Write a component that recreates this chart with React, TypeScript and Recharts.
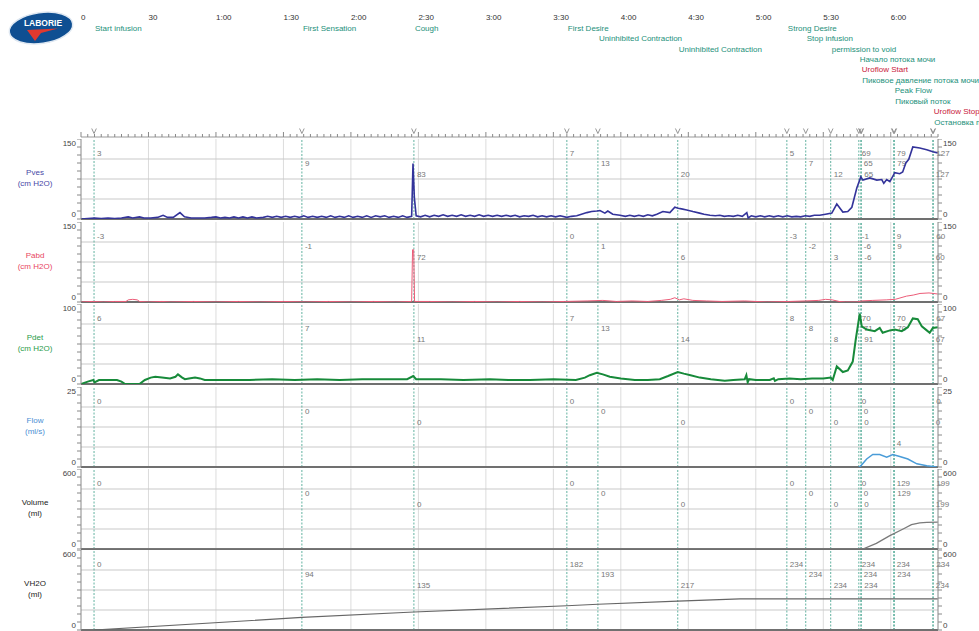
import React from 'react';
import { LineChart, Line, XAxis, YAxis, ReferenceLine } from 'recharts';

const W = 979;
const PLOT_LEFT = 81;
const PLOT_RIGHT = 938;
const AXIS_W = 30;
const T_MAX = 381;
const FONT = '"Liberation Sans", Arial, sans-serif';

// time axis (seconds)
const timeTicks = [0, 30, 60, 90, 120, 150, 180, 210, 240, 270, 300, 330, 360];
const timeLabels = ['0', '30', '1:00', '1:30', '2:00', '2:30', '3:00', '3:30', '4:00', '4:30', '5:00', '5:30', '6:00'];

// events
const eventTimes = [5.8, 98.2, 148, 216, 229.8, 265.3, 313.8, 322.2, 333.3, 345.8, 346.7, 346.9, 361.3, 361.6, 378.7, 378.9];
const eventNames = [
  'Start infusion', 'First Sensation', 'Cough', 'First Desire', 'Uninhibited Contraction',
  'Uninhibited Contraction', 'Strong Desire', 'Stop infusion', 'permission to void',
  'Начало потока мочи', 'Uroflow Start', 'Пиковое давление потока мочи', 'Peak Flow',
  'Пиковый поток', 'Uroflow Stop', 'Остановка потока мочи',
];
const eventLabelRows = [0, 0, 0, 0, 1, 2, 0, 1, 2, 3, 4, 5, 6, 7, 8, 9];

// traces: [seconds, value]
const pves: [number, number][] = [
  [0, 0], [3, 1], [6, 2], [9, 1], [12, 2], [15, 1], [18, 2], [21, 4], [23, 2], [26, 4], [28, 2], [31, 2],
  [34, 3], [36.5, 7], [38.5, 3], [41, 3], [44, 12], [46, 4], [49, 2], [52, 2], [55, 2], [58, 3], [60, 4],
  [62, 2], [64, 3], [66, 2], [68, 4], [70, 2], [72, 4], [74, 2], [76, 4], [78, 2], [81, 3], [83, 5], [85, 3],
  [87, 5], [89, 3], [91, 5], [93, 3], [95, 5], [97, 3], [99, 6], [101, 3], [103, 5], [105, 3], [107, 5],
  [109, 3], [111, 6], [113, 3], [115, 5], [117, 3], [119, 6], [121, 3], [123, 5], [125, 3], [127, 6],
  [129, 3], [131, 6], [133, 4], [135, 6], [137, 3], [139, 5], [141, 3], [143, 6], [145, 3], [147, 5],
  [147.6, 104], [148.2, 40], [149, 6], [151, 4], [153, 7], [155, 4], [157, 7], [159, 5], [161, 8], [163, 5],
  [165, 7], [167, 5], [169, 8], [171, 5], [173, 7], [175, 5], [177, 8], [179, 5], [181, 7], [183, 5],
  [185, 7], [187, 5], [189, 7], [191, 5], [193, 7], [195, 4], [197, 6], [199, 5], [201, 7], [203, 4],
  [205, 6], [207, 4], [209, 6], [211, 4], [213, 6], [216, 3], [218, 5], [220.4, 6], [222.5, 9], [224.9, 12],
  [227, 14], [229.3, 15], [230.7, 16], [232.9, 11], [234.2, 15], [236.4, 9], [239.6, 7], [242, 5], [244, 7],
  [246, 5], [248, 7], [250, 5], [252, 8], [254, 6], [256, 9], [258.7, 14], [261.8, 12], [264, 22],
  [265.5, 20], [267, 19], [269.3, 17], [272, 14], [275, 11], [277, 9], [279.6, 7], [282, 6], [284, 7],
  [286, 5], [288, 6], [290, 5], [292, 7], [294, 5], [296, 12], [296.6, 2], [298, 6], [300, 4], [302, 6],
  [304, 4], [306, 6], [308, 4], [310, 6], [312, 4], [314, 6], [316, 4], [318, 5], [320, 4], [322, 6],
  [324, 5], [326, 7], [328.4, 7], [331, 9], [333.8, 11], [336, 28], [338.7, 13], [340.9, 14], [342.7, 22],
  [344.9, 58], [346.7, 79], [347.6, 73], [350.7, 77], [353.8, 73], [356, 74], [356.9, 67], [358.2, 74],
  [359.6, 70], [361.8, 87], [364, 85], [365.3, 88], [366.7, 105], [368, 112], [369.8, 135], [372.9, 133],
  [376, 130], [378.7, 126], [380.9, 124],
];

const pabd: [number, number][] = [
  [0, 0], [5, 1], [10, 0], [15, 1], [20, 1], [21, 4], [23, 5], [25, 4], [26, 1], [30, 0], [36, 1], [40, 0],
  [50, 1], [60, 0], [70, 1], [80, 0], [90, 1], [100, 0], [110, 1], [120, 0], [130, 1], [140, 0], [147, 1],
  [147.4, 98], [147.9, 98], [148.3, 1], [155, 1], [165, 0], [175, 1], [185, 0], [195, 1], [205, 0],
  [215, 1], [225, 2], [232, 3], [238, 1], [245, 2], [252, 1], [258, 3], [262, 5], [264, 8], [266, 4],
  [268, 6], [272, 3], [278, 2], [285, 1], [295, 2], [305, 0], [315, 1], [322, 2], [328, 3], [331, 5],
  [334, 4], [337, 1], [340, 0], [345, 0], [347, 2], [352, 3], [358, 4], [362, 5], [367, 11], [370, 13],
  [373, 16], [377, 17], [380.9, 15],
];

const pdet: [number, number][] = [
  [0, 0], [3, 3], [5.5, 5], [6, 2], [8, 5], [12, 5], [16, 5], [18, 3], [19.6, 0], [26, 0], [28.4, 5],
  [31, 8], [33, 9], [36, 8], [39.6, 7], [42, 9], [43.1, 12], [45, 8], [46.2, 6], [48, 7], [50.7, 8],
  [52.9, 7], [55, 5], [65, 5], [75, 5], [85, 6], [95, 5], [105, 6], [115, 5], [125, 6], [135, 6], [145, 6],
  [147.7, 10], [149, 6], [160, 6], [170, 5], [181.8, 6], [190, 5], [199.6, 5], [210, 6], [220, 5],
  [224, 8], [226.2, 11], [229.3, 14], [232, 12], [235.1, 9], [240, 7], [246.2, 5], [252, 5], [257.3, 6],
  [261, 10], [265.3, 15], [268, 13], [271, 11], [275.1, 8], [280, 6], [286.2, 4], [290, 5], [295.1, 6],
  [295.8, 11], [296.4, 2], [297, 6], [300, 5], [306.2, 5], [308, 7], [308.5, 4], [310, 6], [315, 7],
  [320, 6], [325, 7], [330, 7], [333.3, 8], [334.2, 5], [336, 22], [338.7, 15], [340.9, 17], [343.1, 28],
  [344.4, 55], [346.2, 88], [347.1, 72], [349.3, 68], [352.9, 66], [355.1, 70], [356.4, 64], [359.6, 67],
  [361.8, 68], [364.9, 66], [367.6, 71], [369.8, 82], [372, 81], [373.8, 72], [376, 67], [377.3, 64],
  [378.7, 70], [380.9, 71],
];

const flow: [number, number][] = [
  [345.8, 0], [346.5, 0.2], [349.3, 2.5], [352, 3.9], [355.1, 3.9], [358.2, 3.1], [360.9, 3.9],
  [364, 3.3], [367.6, 2.5], [371.6, 1.0], [376, 0.4], [380.4, 0],
];

const volume: [number, number][] = [
  [0, 0], [347.6, 0], [353.6, 42], [359.6, 100], [365.5, 150], [369.2, 182], [372.9, 196], [376, 199],
  [380.9, 201],
];

const vh2o: [number, number][] = [
  [5.8, 0], [98.2, 94], [148, 135], [216, 182], [229.8, 193], [265.3, 217], [293, 234], [380.9, 234],
];

// axis ticks
const pvesTicks = [0, 15, 30, 45, 60, 75, 90, 105, 120, 135, 150];
const pabdTicks = [0, 15, 30, 45, 60, 75, 90, 105, 120, 135, 150];
const pdetTicks = [0, 10, 20, 30, 40, 50, 60, 70, 80, 90, 100];
const flowTicks = [0, 2.5, 5, 7.5, 10, 12.5, 15, 17.5, 20, 22.5, 25];
const volumeTicks = [0, 60, 120, 180, 240, 300, 360, 420, 480, 540, 600];
const vh2oTicks = [0, 60, 120, 180, 240, 300, 360, 420, 480, 540, 600];

// values printed at each event
const pvesMarks = ['3', '9', '83', '7', '13', '20', '5', '7', '12', '69', '65', '65', '79', '79', '127', '127'];
const pabdMarks = ['-3', '-1', '72', '0', '1', '6', '-3', '-2', '3', '-1', '-6', '-6', '9', '9', '60', '60'];
const pdetMarks = ['6', '7', '11', '7', '13', '14', '8', '8', '8', '70', '71', '91', '70', '70', '67', '67'];
const flowMarks = ['0', '0', '0', '0', '0', '0', '0', '0', '0', '0', '0', '0', '4', '', '0', '0'];
const volumeMarks = ['0', '0', '0', '0', '0', '0', '0', '0', '0', '0', '0', '0', '129', '129', '199', '199'];
const vh2oMarks = ['0', '94', '135', '182', '193', '217', '234', '234', '234', '234', '234', '234', '234', '234', '234', '234'];

const panels = [
  { name: 'Pves', unit: '(cm H2O)', points: pves, ticks: pvesTicks, marks: pvesMarks, stroke: '#33339a', sw: 1.6, text: '#4747a6' },
  { name: 'Pabd', unit: '(cm H2O)', points: pabd, ticks: pabdTicks, marks: pabdMarks, stroke: '#ec5c78', sw: 1, text: '#e8465f' },
  { name: 'Pdet', unit: '(cm H2O)', points: pdet, ticks: pdetTicks, marks: pdetMarks, stroke: '#178a3a', sw: 2, text: '#2a9c4a' },
  { name: 'Flow', unit: '(ml/s)', points: flow, ticks: flowTicks, marks: flowMarks, stroke: '#4a9cd8', sw: 1.5, text: '#4a8fd4' },
  { name: 'Volume', unit: '(ml)', points: volume, ticks: volumeTicks, marks: volumeMarks, stroke: '#7a7a7a', sw: 1.3, text: '#222' },
  { name: 'VH2O', unit: '(ml)', points: vh2o, ticks: vh2oTicks, marks: vh2oMarks, stroke: '#666', sw: 1.2, text: '#222' },
];
const panelTops = [139, 222, 304, 387, 469, 550];

const rulerTicks: number[] = [];
for (let t = 0; t <= T_MAX; t += 3) rulerTicks.push(t);

const EVENT_STROKE = '#63b2a0';

function axisTick(max: number, side: 'l' | 'r') {
  return (props: any) => {
    const { x, y, payload } = props;
    const v = payload.value;
    if (v !== 0 && v !== max) return <g />;
    return (
      <text x={x} y={v === max ? y + 7 : y - 2} fontSize={8} fill="#444" fontFamily={FONT}
        textAnchor={side === 'l' ? 'end' : 'start'}>{v}</text>
    );
  };
}

function Panel({ idx }: { idx: number }) {
  const p = panels[idx];
  const data = p.points.map(([t, v]) => ({ t, v }));
  const max = p.ticks[p.ticks.length - 1];
  const grid = [max / 4, max / 2, (max * 3) / 4];
  return (
    <div style={{ position: 'absolute', left: 0, top: panelTops[idx], width: W, height: 82 }}>
      <div style={{ position: 'absolute', left: 4, top: 29, width: 62, textAlign: 'center', fontSize: 8, lineHeight: '10.5px', color: p.text, fontFamily: FONT }}>
        {p.name}<br />{p.unit}
      </div>
      <LineChart width={W} height={82} data={data}
        margin={{ top: 0, bottom: 2, left: PLOT_LEFT - AXIS_W, right: W - PLOT_RIGHT - AXIS_W }}>
        <XAxis dataKey="t" type="number" domain={[0, T_MAX]} hide allowDataOverflow />
        <YAxis yAxisId="l" orientation="left" width={AXIS_W} domain={[0, max]} ticks={p.ticks} interval={0}
          tickSize={4} tickMargin={1} stroke="#888" tick={axisTick(max, 'l')} allowDataOverflow />
        <YAxis yAxisId="r" orientation="right" width={AXIS_W} domain={[0, max]} ticks={p.ticks} interval={0}
          tickSize={4} tickMargin={1} stroke="#888" tick={axisTick(max, 'r')} allowDataOverflow />
        {timeTicks.slice(1).map((t) => (
          <ReferenceLine key={'v' + t} yAxisId="l" x={t} stroke="#dcdcdc" />
        ))}
        {grid.map((g) => (
          <ReferenceLine key={'h' + g} yAxisId="l" y={g} stroke="#c9c9c9" />
        ))}
        {eventTimes.map((t, i) => {
          const text = p.marks[i];
          const row = p.name === 'Flow' && i === 12 ? 4 : i % 3;
          return (
            <ReferenceLine key={'e' + i} yAxisId="l" x={t} stroke={EVENT_STROKE} strokeDasharray="2 1.5"
              label={(lp: any) => {
                const vb = lp.viewBox || {};
                if (!text) return <g />;
                return (
                  <text x={(vb.x || 0) + 3} y={(vb.y || 0) + 16.5 + row * 10.7} fontSize={8} fill="#777" fontFamily={FONT}>{text}</text>
                );
              }} />
          );
        })}
        <ReferenceLine yAxisId="l" y={0} stroke="#707070" strokeWidth={2} />
        <Line yAxisId="l" type="linear" dataKey="v" stroke={p.stroke} strokeWidth={p.sw} dot={false} isAnimationActive={false} />
      </LineChart>
    </div>
  );
}

function timeTick(props: any) {
  const { x, y, payload } = props;
  const i = timeTicks.indexOf(payload.value);
  return <text x={x} y={y} fontSize={8} fill="#333" fontFamily={FONT}>{timeLabels[i]}</text>;
}

function rulerTick(props: any) {
  const { x, y, payload } = props;
  const major = payload.value % 30 === 0;
  return <line x1={x} x2={x} y1={y} y2={y - (major ? 5 : 3)} stroke="#888" strokeWidth={1} />;
}

function Header() {
  const data = timeTicks.map((t) => ({ t, y: 0 }));
  return (
    <div style={{ position: 'absolute', left: 0, top: 0, width: W, height: 140 }}>
      <svg width={80} height={50} style={{ position: 'absolute', left: 0, top: 0 }}>
        <ellipse cx={41} cy={28} rx={32} ry={15.5} fill="#0f4f92" stroke="#dfe8f2" strokeWidth={1.5} transform="rotate(-8 41 28)" />
        <text x={43} y={26} fontSize={8.5} fontWeight="bold" fill="#fff" textAnchor="middle" fontFamily={FONT}>LABORIE</text>
        <polygon points="27,30 58,28.5 41,33 35,41" fill="#e0392f" />
      </svg>
      <LineChart width={W} height={140} data={data}
        margin={{ top: 0, bottom: 0, left: PLOT_LEFT, right: W - PLOT_RIGHT }}>
        <XAxis xAxisId="top" orientation="top" dataKey="t" type="number" domain={[0, T_MAX]} ticks={timeTicks}
          interval={0} height={20} axisLine={false} tickLine={false} tickSize={0} tickMargin={0} tick={timeTick} allowDataOverflow />
        <XAxis xAxisId="ruler" orientation="bottom" dataKey="t" type="number" domain={[0, T_MAX]} ticks={rulerTicks}
          interval={0} height={3} axisLine={{ stroke: '#999' }} tickLine={false} tickSize={0} tickMargin={0} tick={rulerTick} allowDataOverflow />
        <YAxis yAxisId="h" hide type="number" domain={[0, 1]} allowDataOverflow />
        <Line xAxisId="ruler" yAxisId="h" dataKey="y" stroke="transparent" dot={false} isAnimationActive={false} />
        {eventTimes.map((t, i) => {
          const name = eventNames[i];
          const red = name.startsWith('Uroflow');
          return (
            <ReferenceLine key={'ev' + i} xAxisId="ruler" yAxisId="h" x={t} stroke="transparent"
              label={(lp: any) => {
                const vb = lp.viewBox || {};
                const x = vb.x || 0;
                return (
                  <g>
                    <text x={x + 1} y={30.6 + eventLabelRows[i] * 10.45} fontSize={8} fill={red ? '#c8203a' : '#23907a'} fontFamily={FONT}>{name}</text>
                    <polyline points={`${x - 2.3},128.5 ${x},133.5 ${x + 2.3},128.5`} fill="none" stroke="#8a8a8a" strokeWidth={0.9} />
                  </g>
                );
              }} />
          );
        })}
      </LineChart>
    </div>
  );
}

export default function App() {
  return (
    <div style={{ position: 'absolute', left: 0, top: 0, width: W, height: 631, overflow: 'hidden', background: '#fff' }}>
      <Header />
      {panels.map((_, i) => (
        <Panel key={i} idx={i} />
      ))}
    </div>
  );
}
